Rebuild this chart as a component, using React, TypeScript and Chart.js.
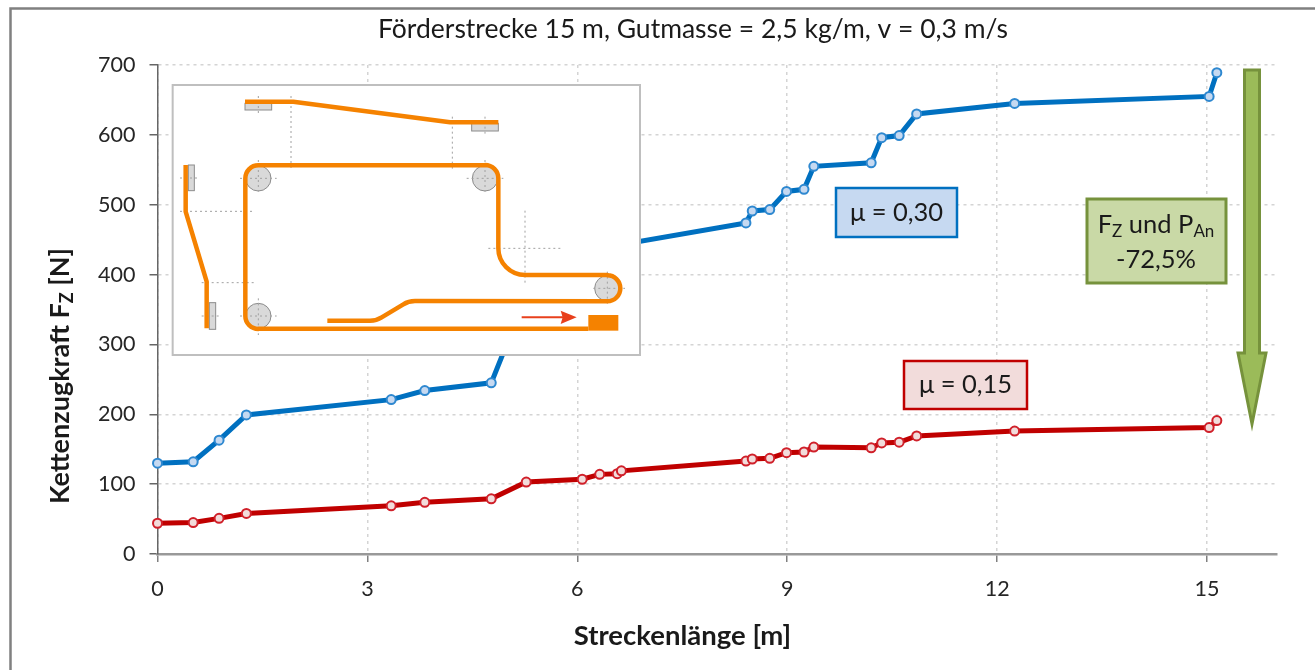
import React, { useEffect, useRef } from "react";
import { Chart, registerables } from "chart.js";

Chart.register(...registerables);

const distance = [0, 0.51, 0.88, 1.27, 3.34, 3.82, 4.77, 5.27, 6.07, 6.32, 6.57, 6.63, 8.41, 8.5, 8.75, 8.99, 9.24, 9.38, 10.2, 10.35, 10.6, 10.85, 12.25, 15.03, 15.14];
const forceMu030 = [130, 132, 163, 199, 221, 234, 245, 370, 410, 425, 438, 443, 474, 491, 493, 519, 522, 555, 560, 596, 599, 630, 645, 655, 689];
const forceMu015 = [44, 45, 51, 58, 69, 74, 79, 103, 107, 114, 115, 119, 133, 136, 137, 145, 146, 153, 152, 159, 160, 169, 176, 181, 191];

const chartTitle = "Förderstrecke 15 m, Gutmasse = 2,5 kg/m, v = 0,3 m/s";
const xAxisTitle = "Streckenlänge [m]";
const yAxisTitleMain = "Kettenzugkraft F";
const yAxisTitleSub = "Z";
const yAxisTitleEnd = " [N]";
const labelMu030 = "μ = 0,30";
const labelMu015 = "μ = 0,15";
const reductionLine = "-72,5%";

const FONT = "Lato, 'Open Sans', sans-serif";
const ORANGE = "#f58200";
const GREEN_FILL = "#9bbb59";
const GREEN_EDGE = "#76923c";

type Run = { t: string; sub?: boolean };

function runs(ctx: CanvasRenderingContext2D, parts: Run[], cx: number, cy: number, size: number, weight: string, color: string) {
  const big = `${weight} ${size}px ${FONT}`;
  const small = `${weight} ${Math.round(size * 0.66)}px ${FONT}`;
  let w = 0;
  for (const p of parts) {
    ctx.font = p.sub ? small : big;
    w += ctx.measureText(p.t).width;
  }
  let x = cx - w / 2;
  ctx.textAlign = "left";
  ctx.textBaseline = "middle";
  ctx.fillStyle = color;
  for (const p of parts) {
    ctx.font = p.sub ? small : big;
    ctx.fillText(p.t, x, p.sub ? cy + size * 0.27 : cy);
    x += ctx.measureText(p.t).width;
  }
}

function box(ctx: CanvasRenderingContext2D, x: number, y: number, w: number, h: number, fill: string, edge: string, lw: number) {
  ctx.fillStyle = fill;
  ctx.strokeStyle = edge;
  ctx.lineWidth = lw;
  ctx.fillRect(x, y, w, h);
  ctx.strokeRect(x, y, w, h);
}

function drawInset(ctx: CanvasRenderingContext2D) {
  // schematic of the conveyor; the coordinates are those of a 3x drawing
  const X = (v: number) => 160 + v / 3;
  const Y = (v: number) => 70 + v / 3;
  const R = (v: number) => v / 3;
  ctx.save();
  ctx.setLineDash([]);
  box(ctx, X(38), Y(45), R(1402), R(810), "#ffffff", "#bfbfbf", 2);

  const grey = (a: number, b: number, c: number, d: number) => box(ctx, X(a), Y(b), R(c - a), R(d - b), "#d9d9d9", "#8c8c8c", 1);
  grey(255, 100, 335, 120);
  grey(935, 160, 1015, 183);
  grey(85, 285, 103, 362);
  grey(148, 698, 167, 778);
  for (const [cx, cy] of [[295, 325], [975, 325], [295, 738], [1342, 655]]) {
    ctx.beginPath();
    ctx.arc(X(cx), Y(cy), R(38), 0, Math.PI * 2);
    ctx.fillStyle = "#d9d9d9";
    ctx.fill();
    ctx.strokeStyle = "#8c8c8c";
    ctx.lineWidth = 1;
    ctx.stroke();
  }

  const dotted: number[][] = [
    [295, 78, 295, 135], [393, 78, 393, 295], [877, 140, 877, 300], [975, 140, 975, 200],
    [60, 424, 280, 424], [125, 638, 285, 638], [60, 324, 120, 324], [125, 738, 185, 738],
    [240, 325, 350, 325], [295, 270, 295, 365], [920, 325, 1030, 325], [975, 270, 975, 365],
    [240, 738, 350, 738], [295, 685, 295, 795], [1300, 655, 1395, 655], [1342, 605, 1342, 710],
    [985, 535, 1205, 535], [1095, 422, 1095, 645],
  ];
  ctx.strokeStyle = "#a0a0a0";
  ctx.lineWidth = 1;
  ctx.setLineDash([2, 3]);
  for (const [a, b, c, d] of dotted) {
    ctx.beginPath();
    ctx.moveTo(X(a), Y(b));
    ctx.lineTo(X(c), Y(d));
    ctx.stroke();
  }
  ctx.setLineDash([]);

  ctx.strokeStyle = ORANGE;
  ctx.lineWidth = 4.5;
  ctx.lineJoin = "round";
  const poly = (pts: number[][]) => {
    ctx.beginPath();
    pts.forEach(([a, b], i) => (i ? ctx.lineTo(X(a), Y(b)) : ctx.moveTo(X(a), Y(b))));
    ctx.stroke();
  };
  poly([[255, 95], [400, 95], [870, 157], [1015, 157]]);
  poly([[77, 285], [77, 425], [140, 635], [140, 775]]);

  ctx.beginPath();
  ctx.moveTo(X(1285), Y(776));
  ctx.lineTo(X(295), Y(776));
  ctx.arc(X(295), Y(738), R(39), Math.PI / 2, Math.PI);
  ctx.lineTo(X(256), Y(325));
  ctx.arc(X(295), Y(325), R(39), Math.PI, Math.PI * 1.5);
  ctx.lineTo(X(975), Y(286));
  ctx.arc(X(975), Y(325), R(40), Math.PI * 1.5, 0);
  ctx.lineTo(X(1015), Y(535));
  ctx.arc(X(1095), Y(535), R(80), Math.PI, Math.PI / 2, true);
  ctx.lineTo(X(1342), Y(615));
  ctx.arc(X(1342), Y(655), R(39), -Math.PI / 2, Math.PI / 2);
  ctx.lineTo(X(765), Y(693));
  ctx.quadraticCurveTo(X(745), Y(693), X(730), Y(703));
  ctx.lineTo(X(665), Y(742));
  ctx.quadraticCurveTo(X(650), Y(752), X(630), Y(752));
  ctx.lineTo(X(502), Y(752));
  ctx.stroke();

  ctx.fillStyle = ORANGE;
  ctx.fillRect(X(1285), Y(735), R(90), R(47));

  ctx.strokeStyle = "#e8401c";
  ctx.lineWidth = 2;
  ctx.beginPath();
  ctx.moveTo(X(1085), Y(742));
  ctx.lineTo(X(1210), Y(742));
  ctx.stroke();
  ctx.fillStyle = "#e8401c";
  ctx.beginPath();
  ctx.moveTo(X(1250), Y(742));
  ctx.lineTo(X(1202), Y(722));
  ctx.lineTo(X(1208), Y(742));
  ctx.lineTo(X(1202), Y(762));
  ctx.closePath();
  ctx.fill();
  ctx.restore();
}

const annotations = {
  id: "annotations",
  afterLayout(chart: any) {
    const t = chart.titleBlock;
    if (t) {
      t.left = 109;
      t.right = 1277;
    }
  },
  afterDraw(chart: any) {
    const ctx: CanvasRenderingContext2D = chart.ctx;
    ctx.save();
    // frame of the figure
    ctx.strokeStyle = "#808080";
    ctx.lineWidth = 2.5;
    ctx.beginPath();
    ctx.moveTo(10.5, 670);
    ctx.lineTo(10.5, 8.5);
    ctx.lineTo(1315, 8.5);
    ctx.stroke();

    drawInset(ctx);

    box(ctx, 836, 188, 121, 49, "#c6d9f1", "#0070c0", 2.5);
    runs(ctx, [{ t: labelMu030 }], 896.5, 213, 25.5, "normal", "#1a1a1a");
    box(ctx, 904, 361, 123, 48, "#f2dcdb", "#c00000", 2.5);
    runs(ctx, [{ t: labelMu015 }], 965.5, 385, 25.5, "normal", "#1a1a1a");

    box(ctx, 1087, 199, 139, 84, "#c9d9a6", GREEN_EDGE, 3);
    runs(ctx, [{ t: "F" }, { t: "Z", sub: true }, { t: " und P" }, { t: "An", sub: true }], 1156, 225, 25.5, "normal", "#1a1a1a");
    runs(ctx, [{ t: reductionLine }], 1156, 260, 25.5, "normal", "#1a1a1a");

    // downward arrow
    ctx.fillStyle = GREEN_FILL;
    ctx.strokeStyle = GREEN_EDGE;
    ctx.lineWidth = 3;
    ctx.lineJoin = "miter";
    ctx.beginPath();
    ctx.moveTo(1244.5, 70);
    ctx.lineTo(1259.5, 70);
    ctx.lineTo(1259.5, 353);
    ctx.lineTo(1266, 353);
    ctx.lineTo(1252, 424);
    ctx.lineTo(1238, 353);
    ctx.lineTo(1244.5, 353);
    ctx.closePath();
    ctx.fill();
    ctx.stroke();

    // axis titles
    runs(ctx, [{ t: xAxisTitle }], 682.5, 636, 27.5, "bold", "#1a1a1a");
    ctx.translate(60, 376);
    ctx.rotate(-Math.PI / 2);
    runs(ctx, [{ t: yAxisTitleMain }, { t: yAxisTitleSub, sub: true }, { t: yAxisTitleEnd }], 0, 0, 27, "bold", "#1a1a1a");
    ctx.restore();
  },
};

export default function App() {
  const ref = useRef<HTMLCanvasElement>(null);
  useEffect(() => {
    const chart = new Chart(ref.current as HTMLCanvasElement, {
      type: "line",
      data: {
        datasets: [
          {
            label: labelMu030,
            data: distance.map((x, i) => ({ x, y: forceMu030[i] })),
            borderColor: "#0070c0",
            borderWidth: 5,
            pointRadius: 4.5,
            pointBorderWidth: 2,
            pointBackgroundColor: "#c6d9f1",
            pointBorderColor: "#2e88d0",
            tension: 0,
            clip: false,
          },
          {
            label: labelMu015,
            data: distance.map((x, i) => ({ x, y: forceMu015[i] })),
            borderColor: "#c00000",
            borderWidth: 5,
            pointRadius: 4.5,
            pointBorderWidth: 2,
            pointBackgroundColor: "#f2dcdb",
            pointBorderColor: "#d0202a",
            tension: 0,
            clip: false,
          },
        ],
      },
      options: {
        responsive: false,
        animation: false,
        layout: { padding: { left: 0, right: 38, top: 0, bottom: 0 } },
        plugins: {
          legend: { display: false },
          tooltip: { enabled: false },
          title: {
            display: true,
            text: chartTitle,
            color: "#1a1a1a",
            font: { family: FONT, size: 26.5, weight: "normal", lineHeight: 1 },
            padding: { top: 16, bottom: 22.5 },
          },
        },
        scales: {
          x: {
            type: "linear",
            min: 0,
            max: 16,
            afterFit: (s: any) => {
              s.height = 116;
            },
            ticks: {
              stepSize: 3,
              includeBounds: false,
              maxRotation: 0,
              padding: 14,
              color: "#262626",
              font: { family: FONT, size: 21.5 },
            },
            grid: {
              color: "#d4d4d4",
              tickColor: "#808080",
              tickLength: 8,
              tickBorderDash: [],
              lineWidth: 1.5,
            },
            border: { color: "#999999", width: 2.5, dash: [3, 4] },
          },
          y: {
            type: "linear",
            min: 0,
            max: 700,
            afterFit: (s: any) => {
              s.width = 157.5;
            },
            ticks: {
              stepSize: 100,
              padding: 14,
              color: "#262626",
              font: { family: FONT, size: 21.5 },
            },
            grid: {
              color: "#d4d4d4",
              tickColor: "#666666",
              tickLength: 8,
              tickBorderDash: [],
              lineWidth: 1.5,
            },
            border: { color: "#666666", width: 1.5, dash: [3, 4] },
          },
        },
      },
      plugins: [annotations],
    } as any);
    return () => chart.destroy();
  }, []);
  return (
    <canvas
      ref={ref}
      width={1315}
      height={670}
      style={{ position: "absolute", left: 0, top: 0, display: "block", background: "#ffffff" }}
    />
  );
}
